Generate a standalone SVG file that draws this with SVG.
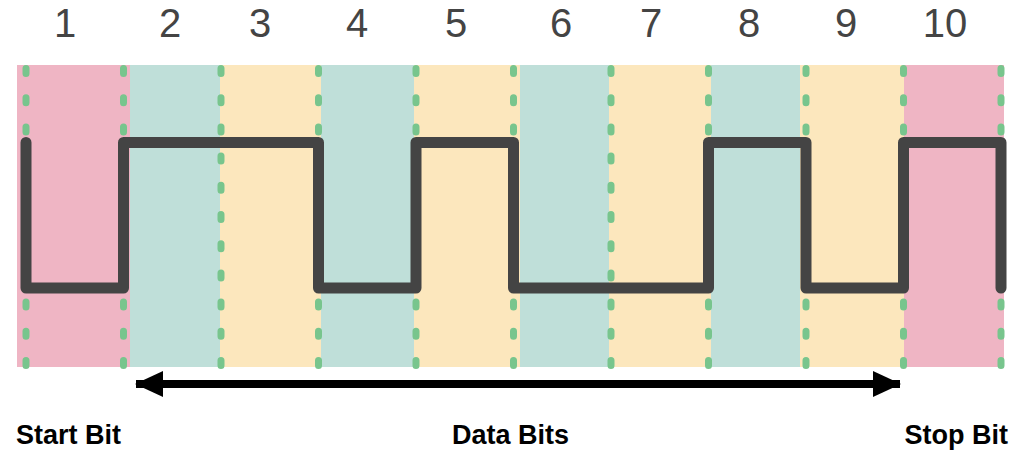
<svg xmlns="http://www.w3.org/2000/svg" width="1024" height="467" viewBox="0 0 1024 467">
  <style>
    .pink { fill: #EFB5C4; }
    .teal { fill: #BFDFD9; }
    .yellow { fill: #FCE7BD; }
    .dash { stroke: #78C58D; stroke-width: 7; stroke-linecap: round; stroke-dasharray: 5 24.2; fill: none; }
    .signal { stroke: #444444; stroke-width: 11; stroke-linecap: round; stroke-linejoin: round; fill: none; }
    .num { font-family: "Liberation Sans", Arial, Helvetica, sans-serif; font-size: 40px; fill: #444444; text-anchor: middle; }
    .lbl { font-family: "Liberation Sans", Arial, Helvetica, sans-serif; font-size: 27px; font-weight: bold; fill: #000000; }
  </style>
  <defs>
    <marker id="arrowhead" viewBox="0 0 28 26" refX="27" refY="13" markerWidth="28" markerHeight="26" markerUnits="userSpaceOnUse" orient="auto-start-reverse">
      <path d="M0,0 L28,13 L0,26 Z" fill="#000000"/>
    </marker>
  </defs>
  <rect width="1024" height="467" fill="#FFFFFF"/>

  <g id="bands">
    <rect id="band-1" class="pink" x="17" y="65" width="113" height="302"/>
    <rect id="band-2" class="teal" x="130" y="65" width="90" height="302"/>
    <rect id="band-3" class="yellow" x="220" y="65" width="101" height="302"/>
    <rect id="band-4" class="teal" x="321" y="65" width="93" height="302"/>
    <rect id="band-5" class="yellow" x="414" y="65" width="106" height="302"/>
    <rect id="band-6" class="teal" x="520" y="65" width="89" height="302"/>
    <rect id="band-7" class="yellow" x="609" y="65" width="102" height="302"/>
    <rect id="band-8" class="teal" x="711" y="65" width="89" height="302"/>
    <rect id="band-9" class="yellow" x="800" y="65" width="104" height="302"/>
    <rect id="band-10" class="pink" x="904" y="65" width="100" height="302"/>
  </g>

  <g id="dividers">
    <line class="dash" x1="26" y1="68.5" x2="26" y2="366"/>
    <line class="dash" x1="123.5" y1="68.5" x2="123.5" y2="366"/>
    <line class="dash" x1="221" y1="68.5" x2="221" y2="366"/>
    <line class="dash" x1="318.5" y1="68.5" x2="318.5" y2="366"/>
    <line class="dash" x1="416" y1="68.5" x2="416" y2="366"/>
    <line class="dash" x1="513.5" y1="68.5" x2="513.5" y2="366"/>
    <line class="dash" x1="611" y1="68.5" x2="611" y2="366"/>
    <line class="dash" x1="708.5" y1="68.5" x2="708.5" y2="366"/>
    <line class="dash" x1="806" y1="68.5" x2="806" y2="366"/>
    <line class="dash" x1="903.5" y1="68.5" x2="903.5" y2="366"/>
    <line class="dash" x1="1001" y1="68.5" x2="1001" y2="366"/>
  </g>

  <g id="signal">
    <path class="signal" d="M26,142.5 V288 H123.5 V142.5 H318.5 V288 H416 V142.5 H513.5 V288 H708.5 V142.5 H806 V288 H903.5 V142.5 H1001 V288"/>
  </g>

  <g id="numbers">
    <text class="num" x="65" y="36.5">1</text>
    <text class="num" x="170" y="36.5">2</text>
    <text class="num" x="260" y="36.5">3</text>
    <text class="num" x="357" y="36.5">4</text>
    <text class="num" x="456" y="36.5">5</text>
    <text class="num" x="561" y="36.5">6</text>
    <text class="num" x="651" y="36.5">7</text>
    <text class="num" x="749" y="36.5">8</text>
    <text class="num" x="846" y="36.5">9</text>
    <text class="num" x="945" y="36.5">10</text>
  </g>

  <g id="connectors">
    <line x1="136" y1="384" x2="900" y2="384" stroke="#000000" stroke-width="8" marker-start="url(#arrowhead)" marker-end="url(#arrowhead)"/>
  </g>

  <g id="start-bit"><text class="lbl" x="16" y="444">Start Bit</text></g>
  <g id="data-bits"><text class="lbl" x="452" y="444">Data Bits</text></g>
  <g id="stop-bit"><text class="lbl" x="1008" y="444" text-anchor="end">Stop Bit</text></g>
</svg>
